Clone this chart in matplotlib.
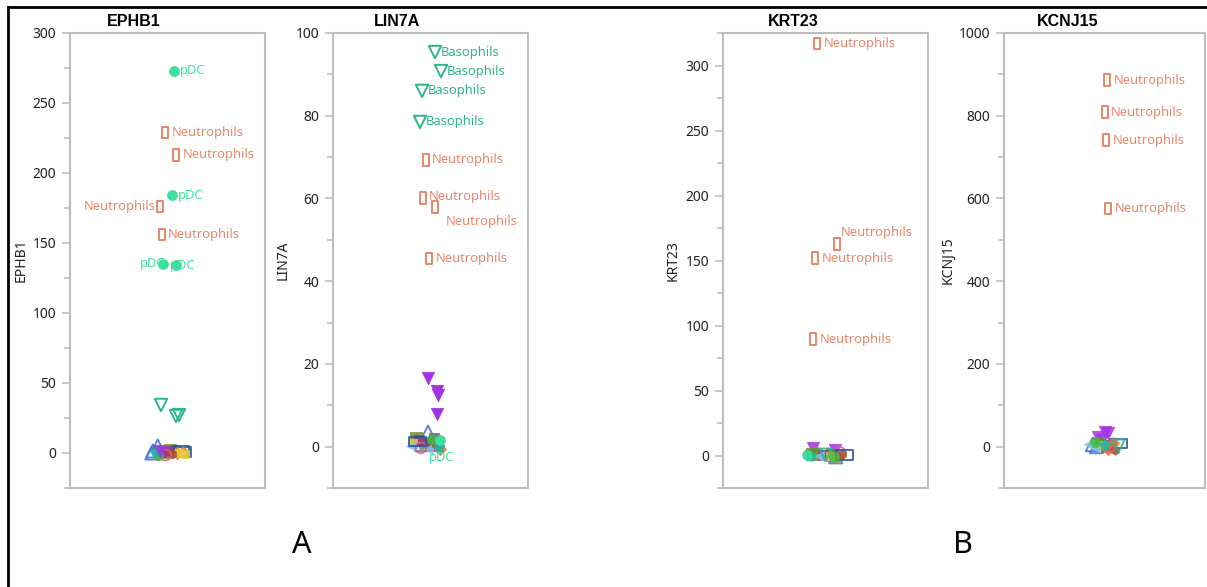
import matplotlib
matplotlib.use("Agg")
import matplotlib.pyplot as plt
from matplotlib.path import Path
from matplotlib.lines import Line2D
from matplotlib.ticker import MultipleLocator

plt.rcParams['font.family'] = ['Noto Sans', 'DejaVu Sans']

# ---------------------------------------------------------------- data
genes = ["EPHB1", "LIN7A", "KRT23", "KCNJ15"]
panel_letters = ["A", "B"]

# EPHB1: labelled outliers first, then the bulk of samples near zero
ephb1_cells = ["pDC", "Neutrophils", "Neutrophils", "pDC", "Neutrophils", "Neutrophils", "pDC", "pDC",
               "Basophils", "Basophils", "Basophils",
               "B cells", "B cells", "B cells", "Monocytes", "Monocytes", "mDC", "mDC",
               "CD4 T cells", "CD4 T cells", "CD8 T cells", "CD8 T cells", "NK cells", "NK cells",
               "Plasmablasts", "Platelets", "MAIT", "Progenitors", "gdT", "Eosinophils"]
ephb1_values = [273, 229, 213, 184, 176, 156, 135, 134,
                34.3, 26.4, 27.1,
                5.0, 1.5, 0.0, 2.5, 0.5, 1.5, 0.8,
                0.5, 1.2, 0.2, 1.0, -1.0, 0.3,
                0.5, -0.5, -1.5, -1.2, 0.8, 1.5]
ephb1_jitter = [0.067, -0.026, 0.087, 0.046, -0.077, -0.056, -0.046, 0.087,
                -0.067, 0.087, 0.118,
                -0.10, -0.15, -0.16, 0.03, -0.05, 0.13, 0.15,
                -0.07, 0.0, 0.10, 0.16, 0.18, 0.12,
                -0.14, 0.05, -0.02, -0.10, -0.12, -0.08]
ephb1_n_labelled = 8

# LIN7A
lin7a_cells = ["Basophils", "Basophils", "Basophils", "Basophils",
               "Neutrophils", "Neutrophils", "Neutrophils", "Neutrophils", "pDC",
               "Eosinophils", "Eosinophils", "Eosinophils", "Eosinophils",
               "B cells", "B cells", "Monocytes", "Monocytes", "CD4 T cells", "CD4 T cells",
               "CD4 T cells", "CD8 T cells", "CD8 T cells", "NK cells", "Plasmablasts",
               "Plasmablasts", "Platelets", "MAIT", "Progenitors", "gdT", "mDC"]
lin7a_values = [95.4, 90.8, 86.0, 78.5,
                69.3, 60.1, 57.9, 45.5, 1.6,
                16.6, 13.4, 12.5, 7.9,
                3.5, 0.5, 2.0, 0.8, 1.5, 0.2,
                2.2, 0.4, -0.5, 1.0, 0.2,
                -0.6, 0.6, -0.3, 1.8, 0.0, 1.2]
lin7a_jitter = [0.046, 0.108, -0.087, -0.108,
                -0.046, -0.077, 0.046, -0.015, 0.10,
                -0.026, 0.067, 0.077, 0.067,
                -0.026, -0.09, -0.15, -0.06, -0.12, 0.0,
                0.04, 0.08, 0.10, -0.18, -0.20,
                -0.03, 0.06, -0.10, 0.02, 0.09, -0.13]
lin7a_n_labelled = 9

# KRT23
krt23_cells = ["Neutrophils", "Neutrophils", "Neutrophils", "Neutrophils",
               "Eosinophils", "Eosinophils", "MAIT",
               "gdT", "gdT", "Progenitors", "Progenitors", "Monocytes", "Monocytes",
               "B cells", "CD4 T cells", "CD8 T cells", "NK cells", "Plasmablasts",
               "Platelets", "mDC", "gdT", "Progenitors", "pDC", "Basophils"]
krt23_values = [317, 162.7, 151.9, 89.5,
                5.4, 3.9, 2.3,
                1.5, 2.0, 1.0, 2.5, 0.5, 1.2,
                -1.0, 0.3, -0.8, 0.0, -0.5,
                0.8, 0.5, 0.0, -1.5, 0.2, 0.6]
krt23_jitter = [-0.083, 0.112, -0.102, -0.122,
                -0.12, 0.09, 0.14,
                -0.04, 0.02, -0.17, -0.09, 0.06, -0.13,
                0.10, -0.02, 0.12, 0.04, -0.06,
                0.16, 0.19, -0.15, 0.08, -0.18, 0.00]
krt23_n_labelled = 4

# KCNJ15
kcnj15_cells = ["Neutrophils", "Neutrophils", "Neutrophils", "Neutrophils",
                "Eosinophils", "Eosinophils", "Eosinophils", "Eosinophils",
                "B cells", "B cells", "Monocytes", "Monocytes", "mDC", "CD4 T cells",
                "CD8 T cells", "CD8 T cells", "NK cells", "Plasmablasts", "Plasmablasts",
                "Platelets", "MAIT", "Progenitors", "gdT", "Basophils"]
kcnj15_values = [886, 809, 741, 576,
                 35, 33, 23, 16,
                 5, 0, 10, 2, 8, 4,
                 8, -5, 3, 6, -2,
                 -8, 0, 12, 5, 2]
kcnj15_jitter = [0.022, 0.007, 0.012, 0.037,
                 0.00, 0.035, -0.065, -0.025,
                 -0.12, -0.08, -0.05, 0.02, 0.14, 0.06,
                 0.08, 0.03, -0.02, -0.15, -0.10,
                 0.10, 0.05, -0.09, 0.00, 0.14]
kcnj15_n_labelled = 4

# ---------------------------------------------------------------- styles
def rect_marker(w, h):
    return Path([(-w, -h), (w, -h), (w, h), (-w, h), (-w, -h)],
                [Path.MOVETO, Path.LINETO, Path.LINETO, Path.LINETO, Path.CLOSEPOLY])

TALL_RECT = rect_marker(0.27, 0.5)
WIDE_RECT = rect_marker(0.5, 0.28)

# cell type -> (colour, marker, filled, size)
STYLE = {
    "pDC":          ("#3ee09e", "o", True, 52),
    "Neutrophils":  ("#e8866a", TALL_RECT, False, 70),
    "Basophils":    ("#2db58c", "v", False, 80),
    "Eosinophils":  ("#a233e2", "v", True, 80),
    "B cells":      ("#3f6fd8", "^", False, 90),
    "Monocytes":    ("#6b8e23", "s", True, 70),
    "CD4 T cells":  ("#8e3a8e", "s", True, 60),
    "CD8 T cells":  ("#e07b28", "D", True, 40),
    "NK cells":     ("#e8d13c", "s", True, 40),
    "mDC":          ("#2452a0", WIDE_RECT, False, 150),
    "Plasmablasts": ("#7ec8e8", "<", True, 50),
    "Platelets":    ("#a0522d", "h", True, 45),
    "MAIT":         ("#e35a8a", "o", False, 60),
    "Progenitors":  ("#49b649", "o", True, 55),
    "gdT":          ("#1fb5a5", "p", True, 65),
}

# label placement (pixel offsets from the point, horizontal alignment)
LABEL_OFFSETS = {
    "EPHB1": [(6, 0, "left"), (7, 0, "left"), (7, 0, "left"), (6, 0, "left"),
              (-4, 0, "right"), (6, 0, "left"), (2, 0, "right"), (-6, 0, "left")],
    "LIN7A": [(6, 0, "left"), (6, 0, "left"), (6, 0, "left"), (6, 0, "left"),
              (6, 0, "left"), (6, 2, "left"), (11, -14, "left"), (7, 0, "left"),
              (-11, -17, "left")],
    "KRT23": [(7, 0, "left"), (4, 11, "left"), (7, 0, "left"), (7, 0, "left")],
    "KCNJ15": [(7, 0, "left"), (6, 0, "left"), (7, 0, "left"), (7, 0, "left")],
}

PANELS = [
    ("EPHB1", ephb1_cells, ephb1_values, ephb1_jitter, ephb1_n_labelled, (-25, 300), 50, 25),
    ("LIN7A", lin7a_cells, lin7a_values, lin7a_jitter, lin7a_n_labelled, (-10, 100), 20, 10),
    ("KRT23", krt23_cells, krt23_values, krt23_jitter, krt23_n_labelled, (-25, 325), 50, 25),
    ("KCNJ15", kcnj15_cells, kcnj15_values, kcnj15_jitter, kcnj15_n_labelled, (-100, 1000), 200, 100),
]

# ---------------------------------------------------------------- layout (pixels)
W, H = 1207, 587
BOX_X = {"EPHB1": (70, 265), "LIN7A": (333, 528), "KRT23": (723, 928), "KCNJ15": (1004, 1205)}
BOX_TOP, BOX_BOTTOM = 33, 488
YLABEL_X = {"EPHB1": 21, "LIN7A": 283, "KRT23": 673, "KCNJ15": 948}
TITLE_X = {"EPHB1": 134, "LIN7A": 397, "KRT23": 793, "KCNJ15": 1068}
LETTER_POS = [(302, 545), (963, 545)]

SPINE_GREY = "#bdbdbd"
TEXT_DARK = "#222222"

fig = plt.figure(figsize=(W / 100, H / 100), dpi=100)

for gene, cells, values, jitter, n_lab, ylim, major, minor in PANELS:
    x0, x1 = BOX_X[gene]
    ax = fig.add_axes([x0 / W, 1 - BOX_BOTTOM / H, (x1 - x0) / W, (BOX_BOTTOM - BOX_TOP) / H])
    ax.set_xlim(-1, 1)
    ax.set_ylim(*ylim)
    ax.yaxis.set_major_locator(MultipleLocator(major))
    ax.yaxis.set_minor_locator(MultipleLocator(minor))
    ax.set_xticks([])
    for sp in ax.spines.values():
        sp.set_color(SPINE_GREY)
        sp.set_linewidth(1.5)
    ax.tick_params(axis="y", which="major", length=6, width=1.2, color=SPINE_GREY,
                   labelsize=10, labelcolor=TEXT_DARK, pad=4)
    ax.tick_params(axis="y", which="minor", length=4, width=1.2, color=SPINE_GREY)
    ax.set_ylabel(gene, fontsize=10, color=TEXT_DARK, va="center")
    ax.yaxis.set_label_coords((YLABEL_X[gene] - x0) / (x1 - x0), 0.5)

    # bulk samples first, labelled outliers on top
    order = list(range(n_lab, len(values))) + list(range(n_lab))
    for i in order:
        colour, marker, filled, size = STYLE[cells[i]]
        is_lab = i < n_lab
        ax.scatter([jitter[i]], [values[i]], s=size, marker=marker,
                   facecolors=colour if filled else "none",
                   edgecolors=colour, linewidths=1.4 if not filled else 0.5,
                   alpha=1.0 if (is_lab or values[i] > major * 0.3) else 0.85,
                   zorder=4 if is_lab else 3, clip_on=False)

    for i in range(n_lab):
        dx, dy, ha = LABEL_OFFSETS[gene][i]
        colour = STYLE[cells[i]][0]
        ax.annotate(cells[i], (jitter[i], values[i]), xytext=(dx, dy),
                    textcoords="offset pixels", ha=ha, va="center",
                    fontsize=9.3, color=colour, zorder=5)

    fig.text(TITLE_X[gene] / W, 1 - 22 / H, gene, ha="center", va="center",
             fontsize=11.5, fontweight="bold", family=["Liberation Sans", "DejaVu Sans"])

for letter, (px, py) in zip(panel_letters, LETTER_POS):
    fig.text(px / W, 1 - py / H, letter, ha="center", va="center", fontsize=22, color="black")

# outer frame: left and top edges
fig.add_artist(Line2D([8 / W, 8 / W], [0, 1 - 7 / H], color="black", lw=2, transform=fig.transFigure))
fig.add_artist(Line2D([8 / W, 1], [1 - 7 / H, 1 - 7 / H], color="black", lw=2, transform=fig.transFigure))

fig.savefig("out.png", dpi=100, facecolor="white")
